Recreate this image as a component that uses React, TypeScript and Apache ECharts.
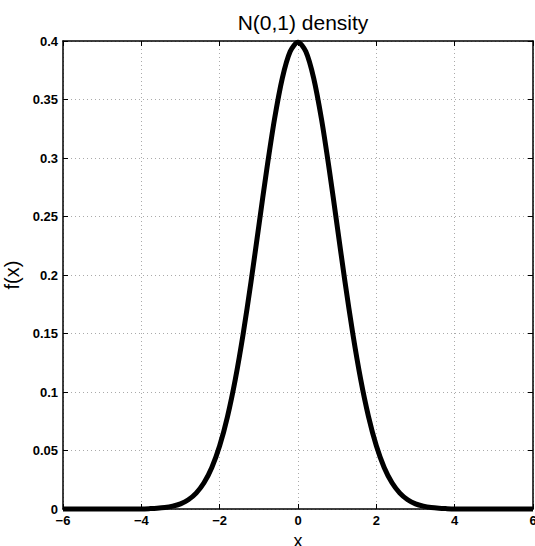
import React, { useEffect, useRef } from "react";
import * as echarts from "echarts";

const titleText = "N(0,1) density";
const xName = "x";
const yName = "f(x)";

const xValues = [
  -6, -5, -4.4, -4, -3.8, -3.6, -3.4, -3.2, -3, -2.8, -2.6, -2.4, -2.2, -2, -1.8, -1.6, -1.4, -1.2, -1,
  -0.8, -0.6, -0.4, -0.2, 0, 0.2, 0.4, 0.6, 0.8, 1, 1.2, 1.4, 1.6, 1.8, 2, 2.2, 2.4, 2.6, 2.8, 3,
  3.2, 3.4, 3.6, 3.8, 4, 4.4, 5, 6,
];
const densityValues = [
  0, 0, 0.00002, 0.0001, 0.0003, 0.0006, 0.0012, 0.0024, 0.0044, 0.0079, 0.0136, 0.0224, 0.0355,
  0.054, 0.079, 0.1109, 0.1497, 0.1942, 0.242, 0.2897, 0.3332, 0.3683, 0.391, 0.3989, 0.391, 0.3683,
  0.3332, 0.2897, 0.242, 0.1942, 0.1497, 0.1109, 0.079, 0.054, 0.0355, 0.0224, 0.0136, 0.0079, 0.0044,
  0.0024, 0.0012, 0.0006, 0.0003, 0.0001, 0.00002, 0, 0,
];

const fontFamily = "'Liberation Sans', Arial, Helvetica, sans-serif";
const fmt = (v: number) => String(v).replace("-", "\u2212");

export default function App() {
  const ref = useRef<HTMLDivElement>(null);
  useEffect(() => {
    if (!ref.current) return;
    const chart = echarts.init(ref.current, undefined, { renderer: "svg" });
    const gridLine = { show: true, lineStyle: { color: "#aaaaaa", type: [1, 3] as any, width: 1 } };
    const axisLabel = { color: "#000", fontWeight: "bold" as const, fontSize: 13, fontFamily };
    chart.setOption({
      animation: false,
      backgroundColor: "#fff",
      title: {
        text: titleText,
        left: 298,
        textAlign: "center",
        top: 7,
        textStyle: { fontFamily, fontSize: 21, fontWeight: "normal", color: "#000" },
      },
      grid: {
        left: 63,
        right: 2,
        top: 41,
        bottom: 37,
        outerBoundsMode: "none",
        containLabel: false,
        show: false,
      },
      xAxis: [
        {
          type: "value",
          min: -6,
          max: 6,
          interval: 2,
          name: xName,
          nameLocation: "middle",
          nameGap: 22,
          nameTextStyle: { fontFamily, fontSize: 18, color: "#000", verticalAlign: "top" },
          axisLine: { show: true, onZero: false, lineStyle: { color: "#000", width: 1.5 } },
          axisTick: { show: true, inside: true, length: 5, lineStyle: { color: "#000" } },
          axisLabel: { ...axisLabel, margin: 5, formatter: fmt },
          splitLine: gridLine,
        },
        {
          type: "value",
          position: "top",
          min: -6,
          max: 6,
          interval: 2,
          axisLine: { show: true, onZero: false, lineStyle: { color: "#000", width: 1.5 } },
          axisTick: { show: true, inside: true, length: 5, lineStyle: { color: "#000" } },
          axisLabel: { show: false },
          splitLine: { show: false },
        },
      ],
      yAxis: [
        {
          type: "value",
          min: 0,
          max: 0.4,
          interval: 0.05,
          name: yName,
          nameLocation: "middle",
          nameGap: 40,
          nameRotate: 90,
          nameTextStyle: { fontFamily, fontSize: 20, color: "#000" },
          axisLine: { show: true, onZero: false, lineStyle: { color: "#000", width: 1.5 } },
          axisTick: { show: true, inside: true, length: 5, lineStyle: { color: "#000" } },
          axisLabel: { ...axisLabel, margin: 5, formatter: (v: number) => String(Math.round(v * 100) / 100) },
          splitLine: gridLine,
        },
        {
          type: "value",
          position: "right",
          min: 0,
          max: 0.4,
          interval: 0.05,
          axisLine: { show: true, onZero: false, lineStyle: { color: "#000", width: 1.5 } },
          axisTick: { show: true, inside: true, length: 5, lineStyle: { color: "#000" } },
          axisLabel: { show: false },
          splitLine: { show: false },
        },
      ],
      series: [
        {
          type: "line",
          data: xValues.map((x, i) => [x, densityValues[i]]),
          smooth: 0.3,
          showSymbol: false,
          clip: false,
          lineStyle: { color: "#000", width: 5 },
          z: 5,
        },
      ],
    });
    return () => chart.dispose();
  }, []);
  return <div ref={ref} style={{ width: 535, height: 546, position: "absolute", left: 0, top: 0 }} />;
}
